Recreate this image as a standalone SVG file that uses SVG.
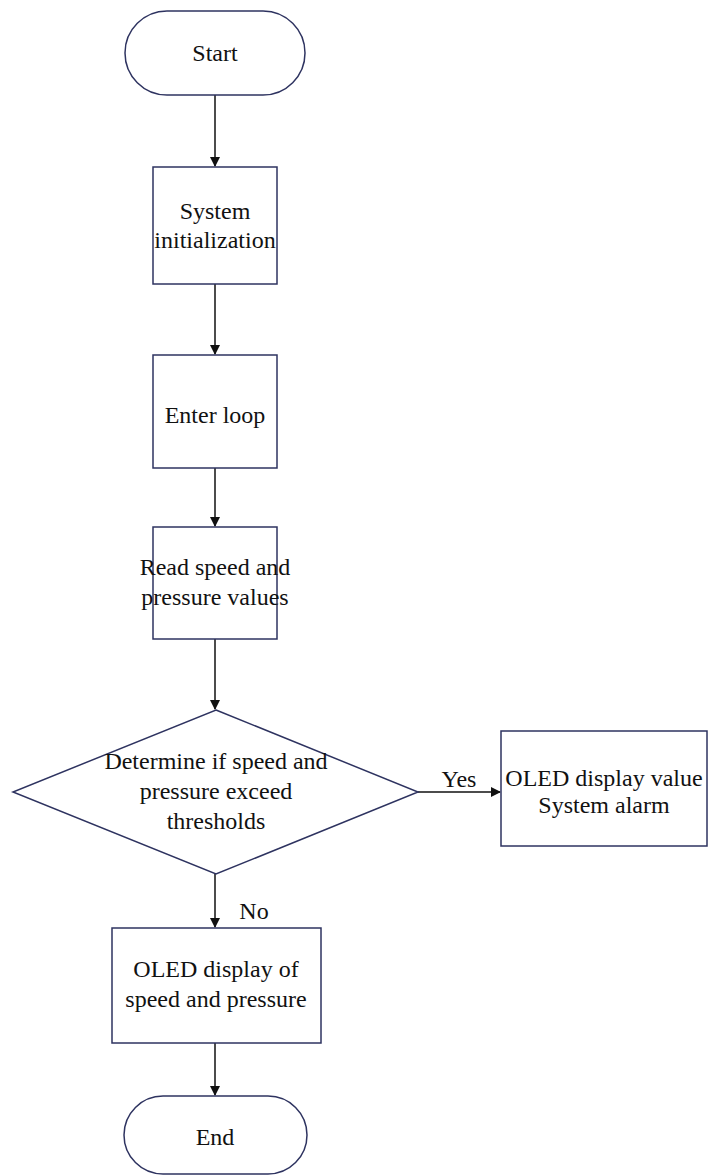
<svg xmlns="http://www.w3.org/2000/svg" width="708" height="1176" viewBox="0 0 708 1176">
<style>
.s{fill:#fff;stroke:#2e3360;stroke-width:1.5}
.t{font-family:"Liberation Serif",serif;font-size:24px;fill:#111;text-anchor:middle}
.c{stroke:#111;stroke-width:1.5;fill:none;marker-end:url(#a)}
</style>
<defs>
<marker id="a" markerWidth="10" markerHeight="10" refX="9" refY="5" orient="auto" markerUnits="userSpaceOnUse">
<path d="M0,0 L10,5 L0,10 Z" fill="#111"/>
</marker>
</defs>
<rect width="708" height="1176" fill="#fff"/>
<g id="connectors">
<line class="c" x1="215" y1="95" x2="215" y2="166"/>
<line class="c" x1="215" y1="284" x2="215" y2="354"/>
<line class="c" x1="215" y1="468" x2="215" y2="526"/>
<line class="c" x1="215" y1="639" x2="215" y2="709"/>
<line class="c" x1="418" y1="792" x2="500" y2="792"/>
<line class="c" x1="215" y1="874" x2="215" y2="927"/>
<line class="c" x1="215" y1="1043" x2="215" y2="1095"/>
<text class="t" x="459" y="787">Yes</text>
<text class="t" x="254" y="919">No</text>
</g>
<g id="start">
<rect class="s" x="125" y="11" width="180" height="84" rx="42"/>
<text class="t" x="215" y="61">Start</text>
</g>
<g id="init">
<rect class="s" x="153" y="167" width="124" height="117"/>
<text class="t" x="215" y="219">System</text>
<text class="t" x="215" y="248">initialization</text>
</g>
<g id="loop">
<rect class="s" x="153" y="355" width="124" height="113"/>
<text class="t" x="215" y="423">Enter loop</text>
</g>
<g id="read">
<rect class="s" x="153" y="527" width="124" height="112"/>
<text class="t" x="215" y="575">Read speed and</text>
<text class="t" x="215" y="605">pressure values</text>
</g>
<g id="decision">
<polygon class="s" points="216,710 418,792 216,874 13,792"/>
<text class="t" x="216" y="769">Determine if speed and</text>
<text class="t" x="216" y="799">pressure exceed</text>
<text class="t" x="216" y="829">thresholds</text>
</g>
<g id="alarm">
<rect class="s" x="501" y="731" width="206" height="115"/>
<text class="t" x="604" y="786">OLED display value</text>
<text class="t" x="604" y="813">System alarm</text>
</g>
<g id="display">
<rect class="s" x="112" y="928" width="209" height="115"/>
<text class="t" x="216" y="977">OLED display of</text>
<text class="t" x="216" y="1007">speed and pressure</text>
</g>
<g id="end">
<rect class="s" x="124" y="1096" width="183" height="78" rx="39"/>
<text class="t" x="215" y="1145">End</text>
</g>
</svg>
